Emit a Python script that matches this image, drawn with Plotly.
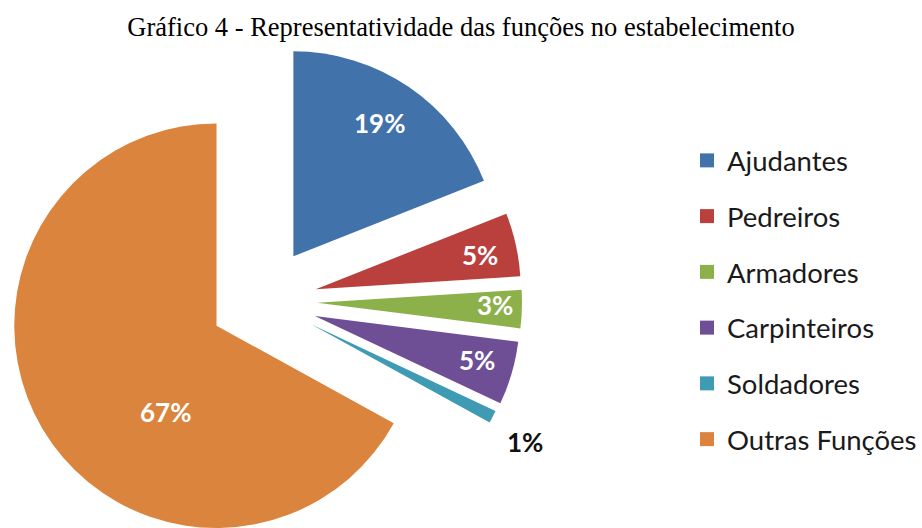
import math
import plotly.graph_objects as go

# Participação de cada função no quadro de funcionários (%)
funcoes = ["Ajudantes", "Pedreiros", "Armadores", "Carpinteiros", "Soldadores", "Outras Funções"]
percentuais = [19, 5, 3, 5, 1, 67]

cores = ["#4272AA", "#B9403D", "#8CB04A", "#6E4F96", "#3E9BB3", "#DB843E"]
cor_rotulo = ["white", "white", "white", "white", "#111111", "white"]

W, H = 922, 528
# centro do gráfico de pizza, raio e afastamento das fatias (px)
CX, CY, R = 263, 301, 205
AFASTAMENTO = 54

# posição dos rótulos: fração do raio e desvio angular em relação ao meio da fatia
rot_raio = [0.776, 0.819, 0.868, 0.818, 1.187, 0.48]
rot_desvio = [-1.2, 0.8, -1.1, -1.0, 1.7, -28.0]

total = sum(percentuais)
fig = go.Figure()
annotations = []
acum = 0.0
for i, (nome, v) in enumerate(zip(funcoes, percentuais)):
    ang_meio = (acum + v / 2) / total * 360.0
    acum += v
    a = math.radians(ang_meio)
    # vértice da fatia deslocada para fora
    vx = CX + AFASTAMENTO * math.sin(a)
    vy = CY - AFASTAMENTO * math.cos(a)
    x0, x1 = max(0.0, (vx - R) / W), min(1.0, (vx + R) / W)
    y0, y1 = max(0.0, 1 - (vy + R) / H), min(1.0, 1 - (vy - R) / H)

    fig.add_trace(go.Pie(
        values=percentuais,
        labels=funcoes,
        sort=False,
        direction="clockwise",
        rotation=0,
        marker=dict(colors=[cores[j] if j == i else "rgba(0,0,0,0)" for j in range(len(funcoes))],
                    line=dict(width=0)),
        textinfo="none",
        hoverinfo="skip",
        showlegend=False,
        domain=dict(x=[x0, x1], y=[y0, y1]),
    ))

    # rótulo percentual
    ar = math.radians(ang_meio + rot_desvio[i])
    lx = vx + rot_raio[i] * R * math.sin(ar)
    ly = vy - rot_raio[i] * R * math.cos(ar)
    annotations.append(dict(
        x=lx / W, y=1 - ly / H, xref="paper", yref="paper",
        text=f"{v / total:.0%}", showarrow=False,
        xanchor="center", yanchor="middle",
        font=dict(family="Lato", size=26, color=cor_rotulo[i], weight="bold"),
    ))

# entradas da legenda
for i, nome in enumerate(funcoes):
    fig.add_trace(go.Scatter(
        x=[None], y=[None], mode="markers", name=nome,
        marker=dict(symbol="square", size=14, color=cores[i]),
        legendgroup=nome, showlegend=True,
    ))

fig.update_layout(
    width=W, height=H,
    margin=dict(l=0, r=0, t=0, b=0),
    paper_bgcolor="white", plot_bgcolor="white",
    title=dict(
        text="Gráfico 4 - Representatividade das funções no estabelecimento",
        x=0.5, xanchor="center", y=1 - 27 / H, yanchor="middle", yref="container",
        font=dict(family="Liberation Serif", size=26.5, color="black"),
    ),
    xaxis=dict(visible=False), yaxis=dict(visible=False),
    legend=dict(
        x=687 / W, xanchor="left", y=1 - 136 / H, yanchor="top",
        font=dict(family="Lato", size=27.5, color="#1a1a1a"),
        tracegroupgap=17, bgcolor="rgba(0,0,0,0)",
    ),
    annotations=annotations,
)

fig.write_html("out.html")
